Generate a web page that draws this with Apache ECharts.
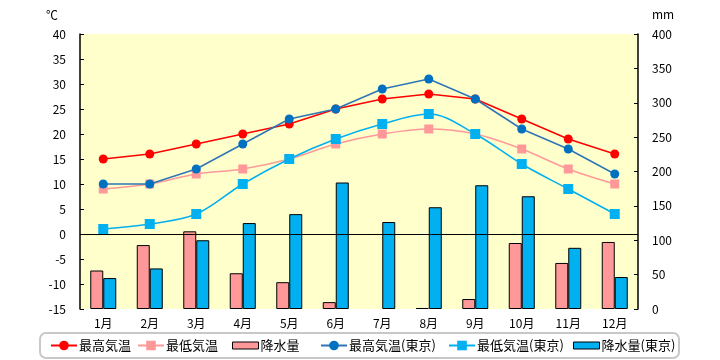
<!DOCTYPE html>
<html><head><meta charset="utf-8">
<script src="https://cdn.jsdelivr.net/npm/echarts@6/dist/echarts.min.js"></script>
<style>html,body{margin:0;padding:0;background:#fff}#c{width:720px;height:360px}</style>
</head><body><div id="c"></div>
<script>
var months = ['1月','2月','3月','4月','5月','6月','7月','8月','9月','10月','11月','12月'];
var maxTemp = [15,16,18,20,22,25,27,28,27,23,19,16];
var minTemp = [9,10,12,13,15,18,20,21,20,17,13,10];
var rain = [56,93,113,52,39,10,null,1.5,14.5,96,67,97.5];
var maxTempTokyo = [10,10,13,18,23,25,29,31,27,21,17,12];
var minTempTokyo = [1,2,4,10,15,19,22,24,20,14,9,4];
var rainTokyo = [45,59,100,125,138,184,126.5,148,180,164,89,46.5];
var tempTicks = [-15,-10,-5,0,5,10,15,20,25,30,35,40];
var rainTicks = [0,50,100,150,200,250,300,350,400];

var FONT = '"Noto Sans CJK JP", "Noto Sans", sans-serif';
var names = ['最高気温','最低気温','降水量','最高気温(東京)','最低気温(東京)','降水量(東京)'];
var legendX = [50,137,232,320,448,573];

var chart = echarts.init(document.getElementById('c'), null, {renderer:'canvas'});
var legends = names.map(function(n,i){
  var isBar = (i===2||i===5);
  return {
    data:[ isBar ? {name:n, icon:'rect', itemStyle:{borderColor:'#000',borderWidth:1}} : {name:n} ],
    left: legendX[i], top: 339,
    itemWidth: 26, itemHeight: isBar ? 7 : 12, itemGap: 0,
    textStyle:{fontFamily:FONT,fontSize:13,color:'#000',padding:[0,0,0,-3]},
    padding:0, selectedMode:false
  };
});

chart.setOption({
  animation:false,
  textStyle:{fontFamily:FONT},
  grid:{left:80,right:82,top:34,bottom:51,show:true,backgroundColor:'#FFFFCC',borderWidth:0},
  legend: legends,
  graphic:[
    {type:'rect',shape:{x:40,y:333,width:639,height:25,r:6},style:{fill:'none',stroke:'#c8c8c8',lineWidth:2},z:0},
    {type:'text',left:46,top:9,style:{text:'℃',fontFamily:FONT,fontSize:12,fill:'#000'}},
    {type:'text',left:652,top:8,style:{text:'mm',fontFamily:FONT,fontSize:12,fill:'#000'}}
  ],
  xAxis:{type:'category',data:months,boundaryGap:true,
    axisLine:{show:false},axisTick:{show:false},
    axisLabel:{color:'#000',fontSize:12,margin:8,fontFamily:FONT}},
  yAxis:[
    {type:'value',min:-15,max:40,interval:5,position:'left',
      axisLine:{show:true,lineStyle:{color:'#000',width:1.5}},
      axisTick:{show:true,inside:true,length:4,lineStyle:{color:'#000'}},
      splitLine:{show:false},
      axisLabel:{color:'#000',fontSize:12,margin:14,fontFamily:FONT}},
    {type:'value',min:0,max:400,interval:50,position:'right',
      axisLine:{show:true,lineStyle:{color:'#000',width:1.5}},
      axisTick:{show:true,inside:true,length:4,lineStyle:{color:'#000'}},
      splitLine:{show:false},
      axisLabel:{color:'#000',fontSize:12,margin:14,fontFamily:FONT}}
  ],
  series:[
    {name:names[0],type:'line',data:maxTemp,yAxisIndex:0,z:5,
      symbol:'circle',symbolSize:9,itemStyle:{color:'#FF0000'},lineStyle:{color:'#FF0000',width:1.5},
      markLine:{silent:true,symbol:'none',label:{show:false},lineStyle:{color:'#000',type:'solid',width:1.2},data:[{yAxis:0}],z:3}},
    {name:names[1],type:'line',data:minTemp,yAxisIndex:0,z:5,smooth:0.35,
      symbol:'rect',symbolSize:9,itemStyle:{color:'#FF9999'},lineStyle:{color:'#FF9999',width:1.5}},
    {name:names[2],type:'bar',data:rain,yAxisIndex:1,z:2,barWidth:13,barGap:'0%',
      itemStyle:{color:'#FF9999',borderColor:'#000',borderWidth:1}},
    {name:names[3],type:'line',data:maxTempTokyo,yAxisIndex:0,z:6,
      symbol:'circle',symbolSize:9,itemStyle:{color:'#0070C0'},lineStyle:{color:'#2E75B6',width:1.5}},
    {name:names[4],type:'line',data:minTempTokyo,yAxisIndex:0,z:6,smooth:0.35,
      symbol:'rect',symbolSize:10,itemStyle:{color:'#00B0F0'},lineStyle:{color:'#00B0F0',width:1.5}},
    {name:names[5],type:'bar',data:rainTokyo,yAxisIndex:1,z:2,barWidth:13,barGap:'0%',
      itemStyle:{color:'#00B0F0',borderColor:'#000',borderWidth:1}}
  ]
});
</script></body></html>
